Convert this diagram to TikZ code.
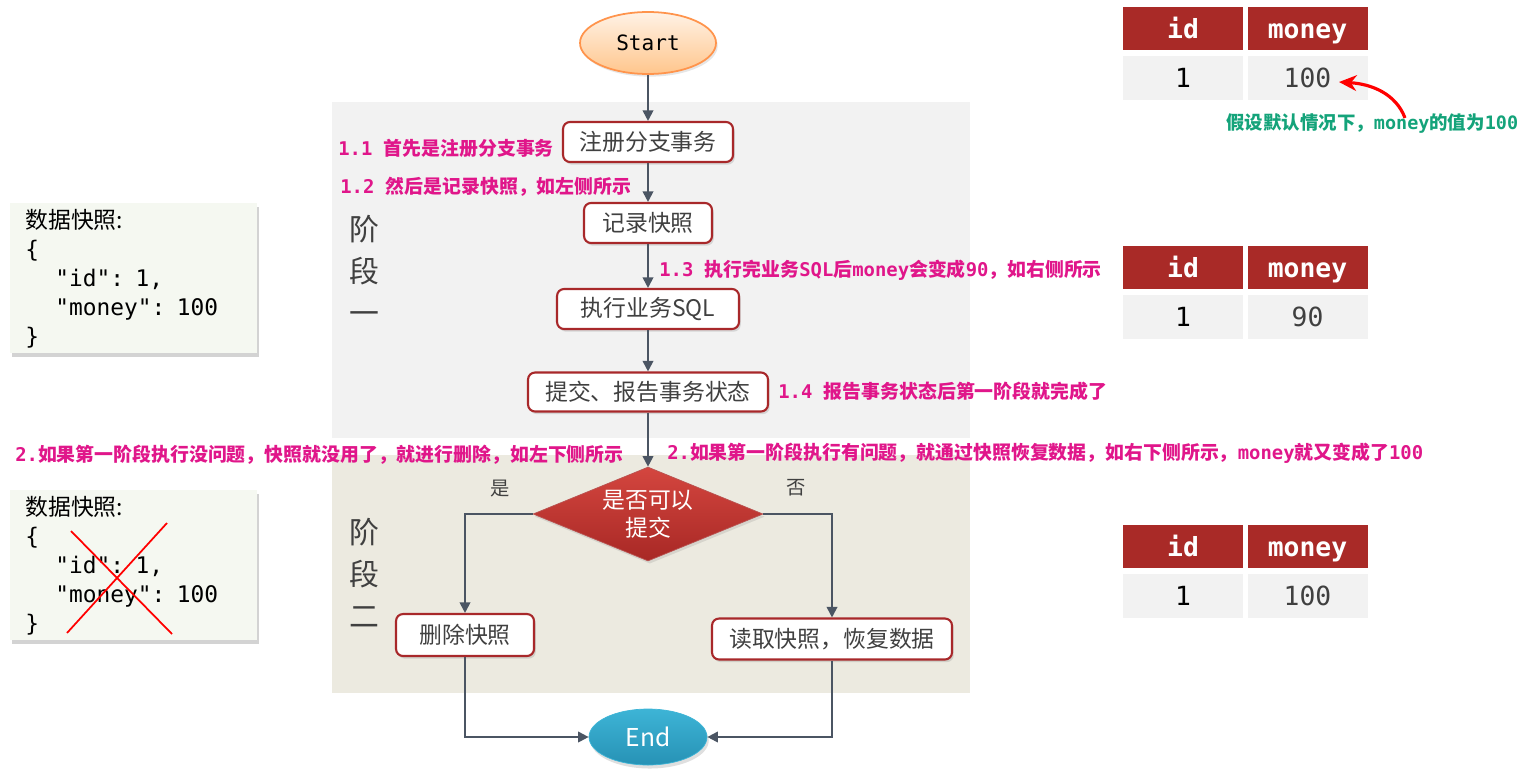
\documentclass[tikz,border=0pt]{standalone}
\usepackage{fontspec}
\setmainfont{Noto Sans CJK SC}
\setmonofont{DejaVu Sans Mono}
\usepackage{tikz}
\usetikzlibrary{
  arrows.meta,
  shapes.geometric,
  positioning,
  calc,
  shadows
}
\definecolor{tpBox}{HTML}{A8282A}
\definecolor{tpText}{HTML}{404040}
\definecolor{tpArrow}{HTML}{4B5563}
\definecolor{tpPink}{HTML}{E0168A}
\definecolor{tpGreen}{HTML}{14A37A}
\definecolor{tpPhaseA}{HTML}{F2F2F2}
\definecolor{tpPhaseB}{HTML}{ECEAE0}
\definecolor{tpHead}{HTML}{A92A27}
\definecolor{tpRow}{HTML}{F2F2F2}
\definecolor{tpSnap}{HTML}{F5F8F1}
\definecolor{tpRedTop}{HTML}{D4463F}
\definecolor{tpRedBot}{HTML}{A82825}
\definecolor{tpBlueTop}{HTML}{3DB4D6}
\definecolor{tpBlueBot}{HTML}{2792B5}

\tikzset{
  stepbox/.style={draw=tpBox, line width=1.2pt, fill=white, rounded corners=4pt,
    text=tpText, font=\fontsize{13}{15}\selectfont, inner sep=0pt,
    drop shadow={opacity=0.25, shadow xshift=1pt, shadow yshift=-1.5pt}},
  flow/.style={draw=tpArrow, line width=1.1pt, -{Triangle[length=6pt,width=6pt]}},
  note/.style={text=tpPink, font=\bfseries\fontsize{10.75}{13}\selectfont, anchor=west, inner sep=0pt},
  phase/.style={text=tpText, align=center, font=\fontsize{17}{24}\selectfont},
  snapbox/.style={fill=tpSnap, anchor=north west, minimum width=4.94cm, minimum height=3cm,
    text width=4.34cm, align=left, inner xsep=0.3cm, inner ysep=0pt,
    font=\fontsize{13}{16.5}\selectfont,
    drop shadow={opacity=0.35, shadow xshift=1pt, shadow yshift=-2pt}},
  headcell/.style={fill=tpHead, text=white, minimum width=2.4cm, minimum height=0.86cm,
    inner sep=0pt, text height=12pt, text depth=1pt,
    font=\ttfamily\bfseries\fontsize{15}{17}\selectfont},
  rowcell/.style={fill=tpRow, minimum width=2.4cm, minimum height=0.88cm,
    inner sep=0pt, font=\ttfamily\fontsize{15}{17}\selectfont},
  choice/.style={text=tpText, font=\fontsize{11}{13}\selectfont}
}

\begin{document}
\begin{tikzpicture}[x=0.02cm, y=-0.02cm]
  \useasboundingbox (0,0) rectangle (1530,771);
  % phases
  \fill[tpPhaseA] (332,102) rectangle (970,438);
  \fill[tpPhaseB] (332,455) rectangle (970,693);
  \node[phase] (phaseA) at (364,270) {阶\\段\\一};
  \node[phase] (phaseB) at (364,573) {阶\\段\\二};

  % flow
  \node[ellipse, minimum width=2.72cm, minimum height=1.24cm, inner sep=0pt,
    draw=orange!80!red!70, line width=1pt, top color=orange!10, bottom color=orange!45,
    font=\ttfamily\fontsize{12}{14}\selectfont,
    drop shadow={opacity=0.2, shadow xshift=1pt, shadow yshift=-1.5pt}] (start) at (648,43) {Start};
  \node[stepbox, minimum width=3.4cm, minimum height=0.8cm] (reg) at (648,142) {注册分支事务};
  \node[stepbox, minimum width=2.56cm, minimum height=0.8cm] (snap) at (648,223) {记录快照};
  \node[stepbox, minimum width=3.64cm, minimum height=0.8cm] (sql) at (648,309) {执行业务SQL};
  \node[stepbox, minimum width=4.8cm, minimum height=0.78cm] (report) at (648,392) {提交、报告事务状态};
  \node[diamond, shape aspect=2.45, minimum width=4.6cm, minimum height=1.88cm, inner sep=0pt,
    top color=tpRedTop, bottom color=tpRedBot, draw=tpRedBot!80, text=white,
    align=center, font=\fontsize{13}{16}\selectfont,
    drop shadow={opacity=0.2, shadow xshift=1pt, shadow yshift=-1.5pt}] (decide) at (648,514) {是否可以\\提交};
  \node[stepbox, minimum width=2.76cm, minimum height=0.84cm] (del) at (465,635) {删除快照};
  \node[stepbox, minimum width=4.8cm, minimum height=0.82cm] (restore) at (832,639) {读取快照，恢复数据};
  \node[ellipse, minimum width=2.36cm, minimum height=1.12cm, inner sep=0pt,
    top color=tpBlueTop, bottom color=tpBlueBot, draw=tpBlueTop,
    text=white, font=\fontsize{14}{16}\selectfont,
    drop shadow={opacity=0.25, shadow xshift=1pt, shadow yshift=-2pt}] (end) at (648,737) {End};

  \draw[flow] (start) -- (reg);
  \draw[flow] (reg) -- (snap);
  \draw[flow] (snap) -- (sql);
  \draw[flow] (sql) -- (report);
  \draw[flow] (report) -- (decide);
  \draw[flow] (decide.west) -| (del.north);
  \draw[flow] (decide.east) -| (restore.north);
  \draw[flow] (del.south) |- (end.west);
  \draw[flow] (restore.south) |- (end.east);
  \node[choice] (yes) at (500,489) {是};
  \node[choice] (no) at (796,488) {否};

  % notes
  \node[note] (n11) at (338,148) {\texttt{1.1 }首先是注册分支事务};
  \node[note] (n12) at (340,187) {\texttt{1.2 }然后是记录快照，如左侧所示};
  \node[note] (n13) at (659,270) {\texttt{1.3 }执行完业务\texttt{SQL}后\texttt{money}会变成\texttt{90}，如右侧所示};
  \node[note] (n14) at (778,391) {\texttt{1.4 }报告事务状态后第一阶段就完成了};
  \node[note] (n2a) at (15,455) {\texttt{2.}如果第一阶段执行没问题，快照就没用了，就进行删除，如左下侧所示};
  \node[note] (n2b) at (667,453) {\texttt{2.}如果第一阶段执行有问题，就通过快照恢复数据，如右下侧所示，\texttt{money}就又变成了\texttt{100}};

  % snapshots
  \node[snapbox] (snapA) at (10,203) {数据快照:\\\ttfamily\{\\\hspace*{0.6cm}"id": 1,\\\hspace*{0.6cm}"money": 100\\\}};
  \node[snapbox] (snapB) at (10,490) {数据快照:\\\ttfamily\{\\\hspace*{0.6cm}"id": 1,\\\hspace*{0.6cm}"money": 100\\\}};
  \draw[red, line width=1pt] (71,531) -- (172,634);
  \draw[red, line width=1pt] (167,523) -- (67,633);

  % tables
  \foreach \ty/\val in {7/100, 246/90, 525/100} {
    \node[headcell] (idh\ty) at (1183,\ty+21.5) {id};
    \node[headcell] (mnh\ty) at (1307.5,\ty+21.5) {money};
    \node[rowcell, text=black] (idv\ty) at (1183,\ty+71) {1};
    \node[rowcell, text=tpText] (mnv\ty) at (1307.5,\ty+71) {\val};
  }
  \coordinate (hintFrom) at (1405,118);
  \coordinate (hintTo) at (1339,82);
  \draw[red, line width=1.8pt, -{Stealth[length=10pt,width=9pt]}]
    (hintFrom) .. controls (1396,94) and (1372,84) .. (hintTo);
  \node[note, text=tpGreen, font=\bfseries\fontsize{10.5}{12}\selectfont] (hint) at (1226,124) {假设默认情况下，\texttt{money}的值为\texttt{100}};
\end{tikzpicture}
\end{document}
